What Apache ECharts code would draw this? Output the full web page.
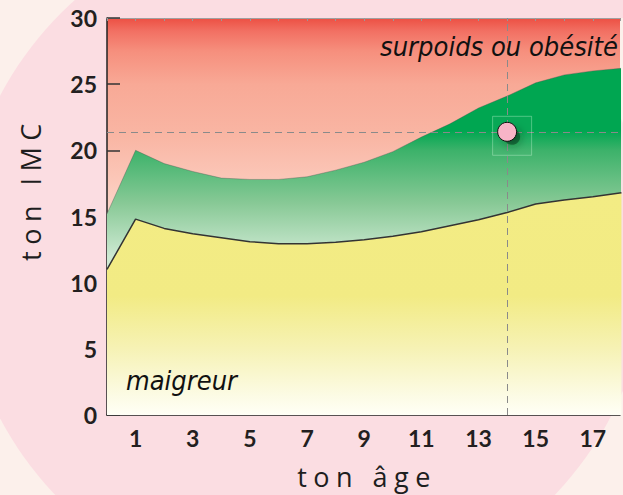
<!DOCTYPE html>
<html>
<head>
<meta charset="utf-8">
<script src="https://cdn.jsdelivr.net/npm/echarts@6/dist/echarts.min.js"></script>
<style>
html,body{margin:0;padding:0;background:#fcf0eb;}
#chart{width:623px;height:495px;}
#chart text[style*="Open Sans"]{letter-spacing:6.5px;}
</style>
</head>
<body>
<div id="chart"></div>
<script>
// ---- data ----
const ages = [0,1,2,3,4,5,6,7,8,9,10,11,12,13,14,15,16,17,18];
const upperBMI = [15.2,20.0,19.0,18.4,17.9,17.8,17.8,18.0,18.5,19.1,19.9,21.0,22.0,23.2,24.1,25.1,25.7,26.0,26.2];
const lowerBMI = [11.0,14.8,14.1,13.7,13.4,13.1,12.95,12.95,13.05,13.25,13.5,13.85,14.3,14.75,15.3,15.95,16.25,16.5,16.8];
const yourPoint = [14, 21.4];
const xTickLabels = ['1','3','5','7','9','11','13','15','17'];
const yTickLabels = ['0','5','10','15','20','25','30'];
const xAxisName = 'ton âge';
const yAxisName = 'ton IMC';
const zoneTop = 'surpoids ou obésité';
const zoneBottom = 'maigreur';

const LG = echarts.graphic.LinearGradient;
function grad(topVal, stops) {
  return new LG(0, 0, 0, 1, stops.map(s => ({offset: Math.min(1, Math.max(0, (topVal - s[0]) / topVal)), color: s[1]})));
}
const upperTop = Math.max(...upperBMI);
const lowerTop = Math.max(...lowerBMI);

const chart = echarts.init(document.getElementById('chart'), null, {renderer: 'svg', width: 623, height: 495});
const tickFont = {fontFamily: 'Lato', fontWeight: 'bold', fontSize: 23, color: '#231f20'};
const nameFont = {fontFamily: 'Open Sans', fontWeight: 400, fontSize: 27, fill: '#1e1e1e'};
const italicFont = {fontFamily: '"Liberation Sans Narrow", "DejaVu Sans Condensed", sans-serif', fontStyle: 'italic', fontSize: 27, fill: '#111'};

chart.setOption({
  animation: false,
  graphic: [
    {type: 'circle', z: -100, silent: true, shape: {cx: 305, cy: 257, r: 345}, style: {fill: '#fbdde2'}},
    {type: 'rect', z: -100, silent: true, shape: {x: 100, y: 0, width: 523, height: 18}, style: {fill: '#fbdde2'}},
    {type: 'text', z: 100, x: 30, y: 189, rotation: Math.PI / 2,
     style: Object.assign({text: yAxisName, align: 'center', verticalAlign: 'middle'}, nameFont)},
    {type: 'text', z: 100, x: 367, y: 476,
     style: Object.assign({text: xAxisName, align: 'center', verticalAlign: 'middle'}, nameFont)},
    {type: 'text', z: 100, x: 618, y: 46,
     style: Object.assign({text: zoneTop, align: 'right', verticalAlign: 'middle'}, italicFont)},
    {type: 'text', z: 100, x: 126, y: 380,
     style: Object.assign({text: zoneBottom, align: 'left', verticalAlign: 'middle'}, italicFont)}
  ],
  grid: {
    left: 107, top: 18, right: 0, height: 397, show: true, borderWidth: 0,
    backgroundColor: grad(30, [[30,'#ec4f43'],[29,'#f27063'],[27.5,'#f68f7d'],[25,'#f8a996'],[21,'#f9b6a4'],[18,'#fbc6b7'],[15,'#fcd8cc'],[0,'#ffffff']])
  },
  xAxis: [{
    type: 'value', min: 0, max: 17.95, interval: 1,
    axisLine: {lineStyle: {color: '#222', width: 1.5}},
    axisTick: {inside: true, length: 10, lineStyle: {color: '#555', width: 1}},
    axisLabel: Object.assign({margin: 11, formatter: v => xTickLabels.indexOf(String(v)) >= 0 ? String(v) : ''}, tickFont),
    splitLine: {show: false}
  }, {
    type: 'value', position: 'top', min: 0, max: 17.95, interval: 1,
    axisLine: {lineStyle: {color: '#a0a0a0', width: 1}},
    axisTick: {inside: true, length: 3, lineStyle: {color: '#999', width: 1}},
    axisLabel: {show: false}, splitLine: {show: false}
  }],
  yAxis: {
    type: 'value', min: 0, max: 30, interval: 5,
    axisLine: {show: true, lineStyle: {color: '#222', width: 1.5}},
    axisTick: {show: true, inside: true, length: 13, lineStyle: {color: '#333', width: 1.5}},
    axisLabel: Object.assign({margin: 10, formatter: v => yTickLabels.indexOf(String(v)) >= 0 ? String(v) : ''}, tickFont),
    splitLine: {show: false}
  },
  series: [
    {
      type: 'line', z: 2, symbol: 'none', silent: true,
      data: ages.map((a, i) => [a, upperBMI[i]]),
      lineStyle: {color: 'rgba(80,80,80,0.45)', width: 0.8},
      areaStyle: {opacity: 1, color: grad(upperTop, [[upperTop,'#00a651'],[21.5,'#00a651'],[20,'#3cb26a'],[16,'#88c996'],[12,'#cde9d2'],[0,'#ffffff']])}
    },
    {
      type: 'line', z: 3, symbol: 'none', silent: true,
      data: ages.map((a, i) => [a, lowerBMI[i]]),
      lineStyle: {color: '#333', width: 1.5},
      areaStyle: {opacity: 1, color: grad(lowerTop, [[lowerTop,'#f3ec84'],[9,'#f2eb84'],[5,'#f6f2b5'],[1.5,'#fcfbe4'],[0,'#fffff6']])}
    },
    {
      type: 'scatter', z: 8, silent: true,
      data: [yourPoint], symbol: 'rect', symbolSize: 39, symbolOffset: [5, 4],
      itemStyle: {color: 'rgba(255,255,255,0.04)', borderColor: 'rgba(210,250,220,0.45)', borderWidth: 1},
      markLine: {
        silent: true, symbol: 'none', label: {show: false},
        lineStyle: {type: [7, 5], color: '#8a8a8a', width: 1},
        data: [{xAxis: yourPoint[0]}, {yAxis: yourPoint[1]}]
      }
    },
    {
      type: 'scatter', z: 9, silent: true,
      data: [yourPoint], symbol: 'circle', symbolSize: 16, symbolOffset: [5, 5],
      itemStyle: {color: 'rgba(0,45,18,0.6)', shadowBlur: 10, shadowColor: 'rgba(0,40,15,0.95)'}
    },
    {
      type: 'scatter', z: 10, silent: true,
      data: [yourPoint], symbol: 'circle', symbolSize: 19,
      itemStyle: {color: '#f8b4c7', borderColor: '#111', borderWidth: 1, opacity: 1}
    }
  ]
});
</script>
</body>
</html>
